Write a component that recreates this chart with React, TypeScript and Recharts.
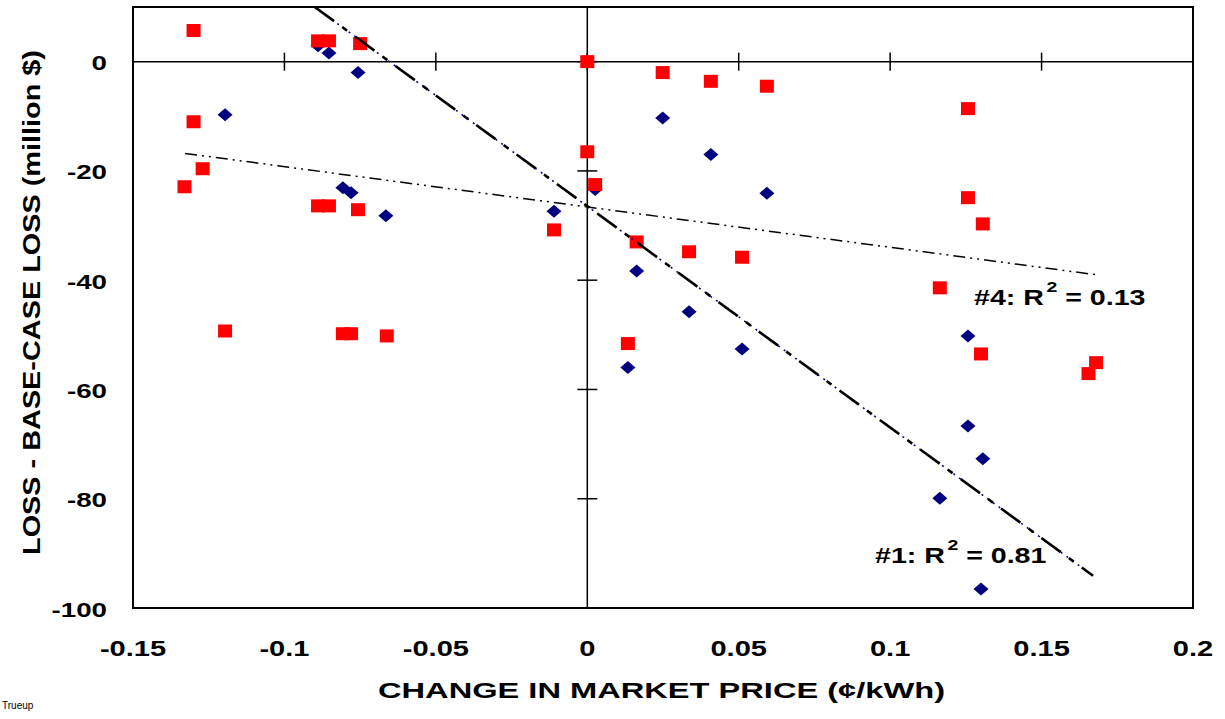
import React from "react";
import {
  ScatterChart,
  Scatter,
  XAxis,
  YAxis,
  ReferenceLine,
  ReferenceArea,
  ReferenceDot,
  Label,
} from "recharts";

// ---------- data ----------
const xTicks = [-0.15, -0.1, -0.05, 0, 0.05, 0.1, 0.15, 0.2];
const xTickLabels = ["-0.15", "-0.1", "-0.05", "0", "0.05", "0.1", "0.15", "0.2"];
const yTicks = [-100, -80, -60, -40, -20, 0];
const yTickLabels = ["-100", "-80", "-60", "-40", "-20", "0"];

// Series #1 (navy diamonds)
const blueX = [
  -0.1196, -0.0889, -0.0853, -0.0757, -0.0807, -0.078, -0.0665, -0.011, 0.0026,
  0.0134, 0.0163, 0.0249, 0.0336, 0.0408, 0.0511, 0.0593, 0.1164, 0.1257, 0.1257,
  0.1306, 0.13,
];
const blueY = [
  -9.7, 2.9, 1.6, -2.0, -23.1, -24.0, -28.2, -27.4, -23.4, -56.0, -38.3, -10.3,
  -45.8, -17.0, -52.6, -24.1, -79.9, -50.2, -66.7, -72.7, -96.5,
];

// Series #4 (red squares)
const redX = [
  -0.133, -0.13, -0.13, -0.127, -0.1196, -0.0889, -0.0853, -0.075, -0.0889,
  -0.0853, -0.0757, -0.0807, -0.078, -0.0662, -0.011, 0.0, 0.0, 0.0026, 0.0134,
  0.0163, 0.0249, 0.0336, 0.0408, 0.0511, 0.0593, 0.1164, 0.1257, 0.1257, 0.1306,
  0.13, 0.1655, 0.168,
];
const redY = [
  -22.9, 5.7, -11.0, -19.6, -49.3, 3.8, 3.8, 3.3, -26.4, -26.4, -27.1, -49.8,
  -49.8, -50.2, -30.8, 0.0, -16.5, -22.5, -51.6, -33.0, -2.0, -34.8, -3.6, -35.8,
  -4.5, -41.4, -8.6, -24.9, -29.7, -53.5, -57.1, -55.1,
];

// Trend lines (end points)
const trend1X = [-0.09, 0.167];
const trend1Y = [10.0, -94.1];
const trend4X = [-0.1328, 0.168];
const trend4Y = [-16.8, -39.0];

const annot1 = { x: 0.095, y: -91.8, head: "#1: R", sup: "2", tail: "= 0.81" };
const annot4 = { x: 0.1277, y: -44.5, head: "#4: R", sup: "2", tail: "= 0.13" };

const xTitle = "CHANGE IN MARKET PRICE (\u00A2/kWh)";
const yTitle = "LOSS - BASE-CASE LOSS (million $)";

// ---------- build ----------
const zip = (xs: number[], ys: number[]) => xs.map((x, i) => ({ x, y: ys[i] }));
const blueData = zip(blueX, blueY);
const redData = zip(redX, redY);
const trend1 = zip(trend1X, trend1Y);
const trend4 = zip(trend4X, trend4Y);

const FONT = "'Liberation Sans', Arial, Helvetica, sans-serif";
const STRETCH = 1.32;

const XTick = (p: any) => {
  const v = p.payload.value;
  const i = xTicks.findIndex((t) => Math.abs(t - v) < 1e-9);
  return (
    <g transform={`translate(${p.x},${p.y + 48}) scale(${STRETCH},1)`}>
      <text x={0} y={0} textAnchor="middle" fontFamily={FONT} fontWeight="bold" fontSize={22} fill="#000">
        {i >= 0 ? xTickLabels[i] : String(v)}
      </text>
    </g>
  );
};

const YTick = (p: any) => {
  const v = p.payload.value;
  const i = yTicks.indexOf(v);
  return (
    <g transform={`translate(${p.x},${p.y + 8.5}) scale(${STRETCH},1)`}>
      <text x={0} y={0} textAnchor="end" fontFamily={FONT} fontWeight="bold" fontSize={21} fill="#000">
        {i >= 0 ? yTickLabels[i] : String(v)}
      </text>
    </g>
  );
};

const RedSquare = (p: any) => (
  <rect x={p.cx - 7} y={p.cy - 6.5} width={14} height={13} fill="#FF0000" />
);

const NavyDiamond = (p: any) => (
  <polygon
    points={`${p.cx},${p.cy - 6.5} ${p.cx + 7.5},${p.cy} ${p.cx},${p.cy + 6.5} ${p.cx - 7.5},${p.cy}`}
    fill="#000080"
  />
);

const Empty = () => <g />;

const makeAnnot = (a: typeof annot1) => (p: any) => (
  <g transform={`translate(${p.cx},${p.cy}) scale(1.3,1)`}>
    <text x={0} y={0} fontFamily={FONT} fontWeight="bold" fontSize={22} fill="#000">
      {a.head}
      <tspan fontSize={15} dx={2} dy={-13}>
        {a.sup}
      </tspan>
      <tspan fontSize={22} dx={6} dy={13}>
        {a.tail}
      </tspan>
    </text>
  </g>
);

const XTitle = () => (
  <text
    x={378}
    y={698}
    textLength={567}
    lengthAdjust="spacingAndGlyphs"
    fontFamily={FONT}
    fontWeight="bold"
    fontSize={22}
    fill="#000"
  >
    {xTitle}
  </text>
);

const YTitle = () => (
  <g transform="translate(40,555) rotate(-90)">
    <text
      x={0}
      y={0}
      textLength={505}
      lengthAdjust="spacingAndGlyphs"
      fontFamily={FONT}
      fontWeight="bold"
      fontSize={23}
      fill="#000"
    >
      {yTitle}
    </text>
  </g>
);

const xCrossHalf = 1.65; // y-units
const yCrossHalf = 0.0033; // x-units

export default function App() {
  return (
    <div style={{ position: "absolute", left: 0, top: 0, width: 1225, height: 719, background: "#fff" }}>
      <ScatterChart width={1225} height={719} margin={{ top: 7, right: 32, bottom: 0, left: 0 }}>
        <XAxis
          type="number"
          dataKey="x"
          domain={[-0.15, 0.2]}
          ticks={xTicks}
          interval={0}
          allowDataOverflow
          axisLine={false}
          tickLine={false}
          tickSize={0}
          tickMargin={0}
          height={111}
          tick={(p: any) => <XTick {...p} />}
        >
          <Label content={() => <XTitle />} />
        </XAxis>
        <YAxis
          type="number"
          dataKey="y"
          domain={[-100, 10]}
          ticks={yTicks}
          interval={0}
          allowDataOverflow
          axisLine={false}
          tickLine={false}
          tickSize={0}
          tickMargin={26}
          width={133}
          tick={(p: any) => <YTick {...p} />}
        >
          <Label content={() => <YTitle />} />
        </YAxis>

        <ReferenceArea
          x1={-0.15}
          x2={0.2}
          y1={-100}
          y2={10}
          fill="none"
          fillOpacity={0}
          stroke="#000"
          strokeWidth={2}
          ifOverflow="visible"
        />
        <ReferenceLine y={0} stroke="#000" strokeWidth={1.5} />
        <ReferenceLine x={0} stroke="#000" strokeWidth={1.5} />
        {xTicks.map((t) => (
          <ReferenceLine
            key={`xt${t}`}
            segment={[
              { x: t, y: -xCrossHalf },
              { x: t, y: xCrossHalf },
            ]}
            stroke="#000"
            strokeWidth={1.5}
            ifOverflow="visible"
          />
        ))}
        {yTicks.map((t) => (
          <ReferenceLine
            key={`yt${t}`}
            segment={[
              { x: -yCrossHalf, y: t },
              { x: yCrossHalf, y: t },
            ]}
            stroke="#000"
            strokeWidth={1.5}
            ifOverflow="visible"
          />
        ))}

        <Scatter data={blueData} shape={NavyDiamond} isAnimationActive={false} />
        <Scatter data={redData} shape={RedSquare} isAnimationActive={false} />

        <Scatter
          data={trend1}
          shape={Empty}
          line={{ stroke: "#000080", strokeWidth: 1.5, strokeDasharray: "2 5" }}
          isAnimationActive={false}
        />
        <Scatter
          data={trend1}
          shape={Empty}
          line={{ stroke: "#000", strokeWidth: 2.6, strokeDasharray: "24 10 6 10" }}
          isAnimationActive={false}
        />
        <Scatter
          data={trend4}
          shape={Empty}
          line={{ stroke: "#000", strokeWidth: 1.5, strokeDasharray: "12 5 2 5 2 5" }}
          isAnimationActive={false}
        />

        <ReferenceDot x={annot1.x} y={annot1.y} r={0} shape={makeAnnot(annot1)} />
        <ReferenceDot x={annot4.x} y={annot4.y} r={0} shape={makeAnnot(annot4)} />
      </ScatterChart>
      <div
        style={{
          position: "absolute",
          left: 2,
          top: 700,
          fontFamily: FONT,
          fontSize: 10,
          color: "#000",
        }}
      >
        Trueup
      </div>
    </div>
  );
}
